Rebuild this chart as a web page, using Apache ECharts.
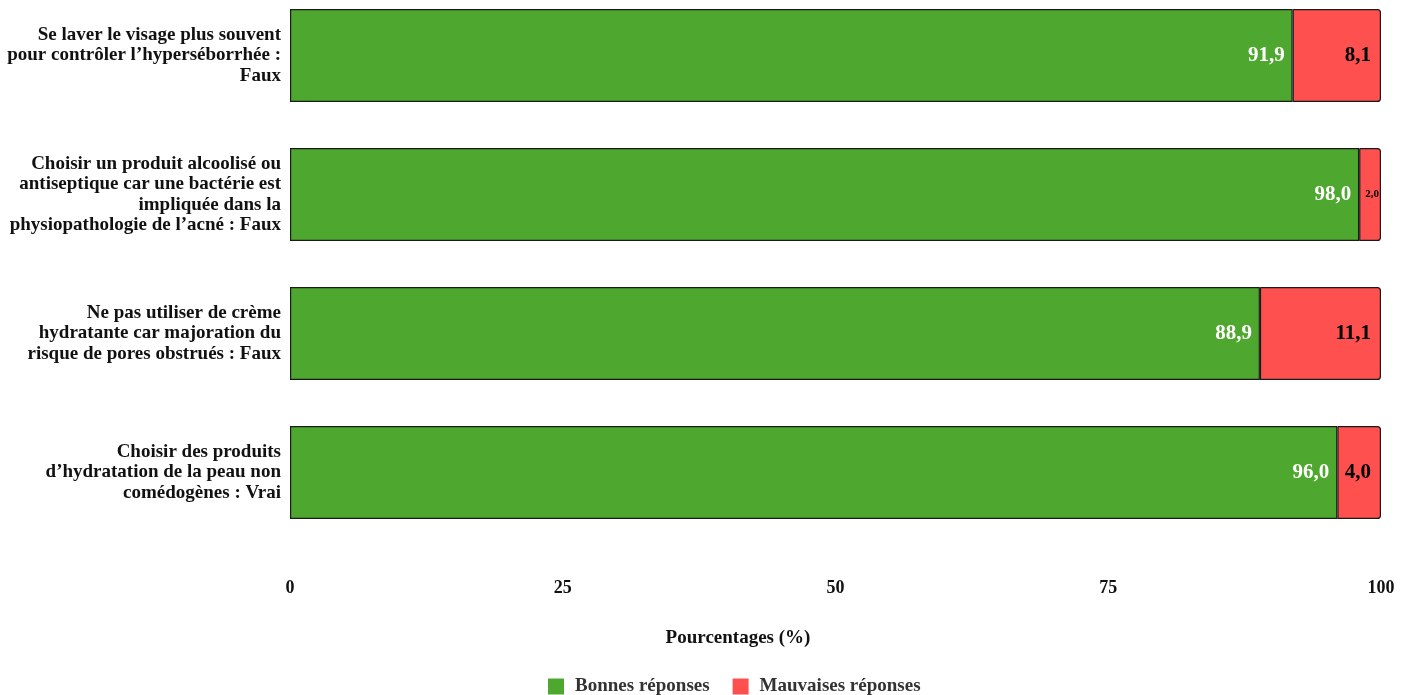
<!DOCTYPE html>
<html><head><meta charset="utf-8">
<script src="https://cdn.jsdelivr.net/npm/echarts@6/dist/echarts.min.js"></script>
<style>html,body{margin:0;padding:0;background:#fff}#c{width:1411px;height:695px}</style>
</head><body><div id="c"></div>
<script>
const categories = [
  "Se laver le visage plus souvent\npour contrôler l’hyperséborrhée :\nFaux",
  "Choisir un produit alcoolisé ou\nantiseptique car une bactérie est\nimpliquée dans la\nphysiopathologie de l’acné : Faux",
  "Ne pas utiliser de crème\nhydratante car majoration du\nrisque de pores obstrués : Faux",
  "Choisir des produits\nd’hydratation de la peau non\ncomédogènes : Vrai"
];
const bonnes = [91.9, 98.0, 88.9, 96.0];
const mauvaises = [8.1, 2.0, 11.1, 4.0];
const xTicks = [0, 25, 50, 75, 100];

const FONT = "'Liberation Serif', 'Times New Roman', serif";
const fmt = v => v.toFixed(1).replace('.', ',');
const chart = echarts.init(document.getElementById('c'));
chart.setOption({
  animation: false,
  textStyle: {fontFamily: FONT},
  title: {
    text: 'Pourcentages (%)', left: 733, top: 624, textAlign: 'center',
    textStyle: {fontFamily: FONT, fontWeight: 'bold', fontSize: 19, color: '#111'}
  },
  grid: {left: 290, right: 30, top: -14, bottom: 153, containLabel: false, outerBoundsMode: 'none'},
  legend: {
    left: 548, top: 677, padding: 0, itemWidth: 16, itemHeight: 16, itemGap: 23,
    icon: 'rect',
    itemStyle: {borderWidth: 0},
    textStyle: {fontFamily: FONT, fontWeight: 'bold', fontSize: 19, color: '#333', padding: [0, 0, 0, 6]},
    data: ['Bonnes réponses', 'Mauvaises réponses']
  },
  xAxis: {
    type: 'value', min: 0, max: 100, interval: 25,
    axisLine: {show: false}, axisTick: {show: false}, splitLine: {show: false},
    axisLabel: {fontFamily: FONT, fontWeight: 'bold', fontSize: 18, color: '#111', margin: 37,
      formatter: v => xTicks.includes(v) ? String(v) : ''}
  },
  yAxis: {
    type: 'category', inverse: true, data: categories,
    axisLine: {show: false}, axisTick: {show: false},
    axisLabel: {fontFamily: FONT, fontWeight: 'bold', fontSize: 19, lineHeight: 20.5, color: '#111', margin: 9, align: 'right'}
  },
  series: [
    {
      name: 'Bonnes réponses', type: 'bar', stack: 't', data: bonnes, barWidth: 93,
      itemStyle: {color: '#4ea72e', borderColor: '#1a1a1a', borderWidth: 1.2},
      label: {show: true, position: 'insideRight', distance: 8, color: '#fff',
        fontFamily: FONT, fontWeight: 'bold', fontSize: 21, formatter: p => fmt(p.value)}
    },
    {
      name: 'Mauvaises réponses', type: 'bar', stack: 't', barWidth: 93,
      data: mauvaises.map(v => v < 3 ? {value: v, label: {fontSize: 11, distance: 2}} : v),
      itemStyle: {color: '#ff5050', borderColor: '#1a1a1a', borderWidth: 1.2, borderRadius: [0, 3, 3, 0]},
      label: {show: true, position: 'insideRight', distance: 10, color: '#000',
        fontFamily: FONT, fontWeight: 'bold', fontSize: 21, formatter: p => fmt(p.value)}
    }
  ]
});
</script></body></html>
